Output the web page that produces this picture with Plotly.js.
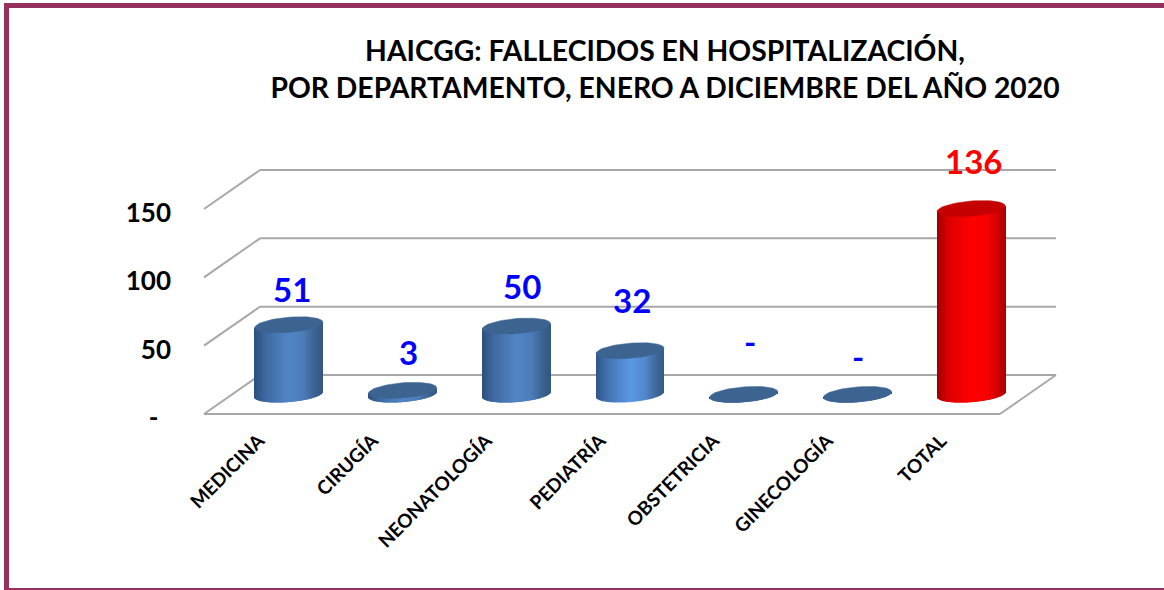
<!DOCTYPE html>
<html>
<head>
<meta charset="utf-8">
<script src="https://cdn.plot.ly/plotly-3.0.1.min.js"></script>
<style>
html,body{margin:0;padding:0;background:#fff;width:1164px;height:590px;overflow:hidden}
#frame{position:absolute;left:4px;top:3px;right:0;bottom:0;border-left:5px solid #96305f;border-top:5px solid #96305f;border-bottom:2px solid #96305f;box-sizing:border-box}
#chart{position:absolute;left:0;top:0;width:1164px;height:590px}
</style>
</head>
<body>
<div id="frame"></div>
<div id="chart"></div>
<script>
// ---- data ----
const categories = ["MEDICINA","CIRUGÍA","NEONATOLOGÍA","PEDIATRÍA","OBSTETRICIA","GINECOLOGÍA","TOTAL"];
const values = [51, 3, 50, 32, 0, 0, 136];
const yTicks = [0, 50, 100, 150];
const yTickText = ["-\u00a0\u00a0", "50", "100", "150"];
const titleLine1 = "HAICGG: FALLECIDOS EN HOSPITALIZACIÓN,";
const titleLine2 = "POR DEPARTAMENTO, ENERO A DICIEMBRE DEL AÑO 2020";

// ---- styling ----
const FONT = "Lato, 'Open Sans', sans-serif";
const labelColor = ["#0000ff","#0000ff","#0000ff","#0000ff","#0000ff","#0000ff","#ff0000"];
const blue = [[0,"#2c4f7c"],[0.18,"#3f6aa2"],[0.5,"#5285c6"],[0.72,"#4d7db9"],[0.9,"#3b6090"],[1,"#34577f"]];
const lightBlue = [[0,"#2f5487"],[0.18,"#4474b3"],[0.5,"#5b98e4"],[0.72,"#5288cc"],[0.9,"#3e6598"],[1,"#365a86"]];
const red = [[0,"#9c0000"],[0.15,"#d80000"],[0.5,"#ff0000"],[0.75,"#f60000"],[0.92,"#c80000"],[1,"#a80000"]];
const bodyPalette = [blue, blue, blue, lightBlue, blue, blue, red];
const capColor = ["#3d6491","#3d6491","#3d6491","#3d6491","#3d6491","#3d6491","#c40000"];

// ---- pseudo-3D geometry (pixels -> axis units) ----
const pxPerCat = 113.71, pxPerVal = 1.3667;
const depthX = 56 / pxPerCat, depthY = 39 / pxPerVal;
const floorY = depthY / 2;
const barShift = depthX / 2;
const strips = 68;
const rx = 34 / pxPerCat;
const tiltVal = 2.7 / pxPerVal;
const ryVal = 7.6 / pxPerVal;
const pad = 4;

function hex(c){return [1,3,5].map(i=>parseInt(c.substr(i,2),16));}
function shade(pal,t){
  for(let i=1;i<pal.length;i++){
    if(t<=pal[i][0]){
      const f=(t-pal[i-1][0])/(pal[i][0]-pal[i-1][0]);
      const a=hex(pal[i-1][1]),b=hex(pal[i][1]);
      return "rgb("+a.map((v,k)=>Math.round(v+(b[k]-v)*f)).join(",")+")";
    }
  }
  return pal[pal.length-1][1];
}

const bx=[],by=[],bbase=[],bcol=[];
categories.forEach((c,i)=>{
  const cx=i+barShift;
  for(let s=0;s<strips;s++){
    const t=(s+0.5)/strips, u=2*t-1;
    const rim=ryVal*Math.sqrt(1-u*u);        // half height of the tilted rim ellipse
    bx.push(cx+u*rx);
    bbase.push(floorY+tiltVal*u-rim);
    by.push(values[i]+rim);
    bcol.push(shade(bodyPalette[i],t));
  }
});
const traces=[{
  type:"bar",x:bx,y:by,base:bbase,width:2*rx/strips,
  marker:{color:bcol,line:{width:0}},hoverinfo:"skip",showlegend:false
}];
// top caps of the cylinders
categories.forEach((c,i)=>{
  const xs=[],ys=[];
  for(let k=0;k<=72;k++){
    const a=k/72*2*Math.PI;
    xs.push(i+barShift+rx*Math.cos(a));
    ys.push(floorY+values[i]+tiltVal*Math.cos(a)+ryVal*Math.sin(a));
  }
  traces.push({type:"scatter",mode:"lines",x:xs,y:ys,fill:"toself",fillcolor:capColor[i],
    line:{width:0.5,color:capColor[i]},name:c,hoverinfo:"name",showlegend:false});
});

// walls and floor
const gridColor="#a8a8a8";
const shapes=[];
function seg(x0,y0,x1,y1){shapes.push({type:"line",xref:"x",yref:"y",layer:"below",x0,y0,x1,y1,line:{color:gridColor,width:2}});}
const L=-0.5,R=categories.length-0.5;
yTicks.forEach(v=>{
  seg(L,v,L+depthX,v+depthY);
  seg(L+depthX,v+depthY,R+depthX,v+depthY);
});
seg(L,0,R,0);
seg(R,0,R+depthX,depthY);

// data labels
const labelDx=[3,6,6,2,6,1,2];
const labelDy=[36,38,40,51,54,39,48];
const annotations=categories.map((c,i)=>({
  x:i+barShift,y:floorY+values[i],xref:"x",yref:"y",
  text:values[i]===0?"-":String(values[i]),showarrow:false,
  xshift:labelDx[i],yshift:labelDy[i],xanchor:"center",yanchor:"middle",
  font:{family:FONT,size:33,color:labelColor[i],weight:700}
}));

const layout={
  width:1164,height:590,
  margin:{l:204-pad,r:1164-1056-pad,t:170-pad,b:590-414-pad,pad:0},
  paper_bgcolor:"rgba(0,0,0,0)",plot_bgcolor:"rgba(0,0,0,0)",
  showlegend:false,
  barmode:"overlay",
  title:{
    text:titleLine1+"<br>"+titleLine2,
    x:665/1164,xanchor:"center",xref:"container",
    y:1-61/590,yanchor:"top",yref:"container",
    font:{family:FONT,size:28.3,color:"#000",weight:700}
  },
  xaxis:{
    range:[L-pad/pxPerCat,R+depthX+pad/pxPerCat],
    tickmode:"array",tickvals:categories.map((c,i)=>i),ticktext:categories,
    tickangle:-45,showgrid:false,zeroline:false,showline:false,ticks:"",
    ticklabelstandoff:7,ticklabelshift:-2,
    tickfont:{family:FONT,size:19,color:"#000",weight:700},automargin:false
  },
  yaxis:{
    range:[-pad/pxPerVal,150+depthY+pad/pxPerVal],
    tickmode:"array",tickvals:yTicks,ticktext:yTickText,
    showgrid:false,zeroline:false,showline:false,ticks:"",
    ticklabelstandoff:28,ticklabelshift:4,
    tickfont:{family:FONT,size:26,color:"#000",weight:700},automargin:false
  },
  shapes,annotations
};
Plotly.newPlot("chart",traces,layout,{displayModeBar:false});
</script>
</body>
</html>
